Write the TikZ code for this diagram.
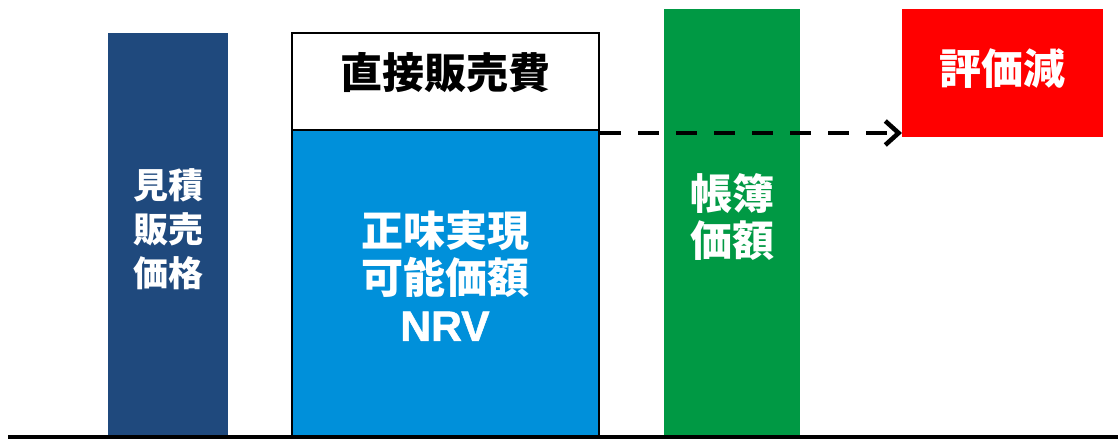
\documentclass[tikz,border=0pt]{standalone}
\usepackage{fontspec}
\newfontfamily\jp{Noto Sans CJK JP}
\newfontfamily\latb{Liberation Sans Bold}[FakeBold=1.2]
\usetikzlibrary{arrows.meta}
\definecolor{navybar}{HTML}{1F497D}
\definecolor{bluebox}{HTML}{0090DA}
\definecolor{greenbar}{HTML}{009944}
\definecolor{redbox}{HTML}{FF0000}
\tikzset{
  lbl/.style={text=white, align=center, font=\jp\bfseries\fontsize{31.5}{35.25}\selectfont, inner sep=0pt},
  lblsmall/.style={text=white, align=center, font=\jp\bfseries\fontsize{26.25}{33}\selectfont, inner sep=0pt},
  frame/.style={draw=black, line width=1.3pt},
  dasharrow/.style={draw=black, line width=3.6pt, dash pattern=on 15.75pt off 12.75pt, -{Straight Barb[length=10pt,width=18pt,line width=3.4pt]}},
}
\begin{document}
\begin{tikzpicture}[x=0.75pt, y=-0.75pt]
\useasboundingbox (0,0) rectangle (1118,439);
% bars
\fill[navybar] (108,33) rectangle (228,435);
\fill[greenbar] (664,9) rectangle (800,435);
\fill[redbox] (902,9) rectangle (1103,137);
% NRV stack
\fill[white] (292,33) rectangle (599,130);
\fill[bluebox] (292,130) rectangle (599,435);
\draw[frame] (292,435) -- (292,33) -- (599,33) -- (599,435);
\draw[frame] (292,130) -- (599,130);
% nodes
\node[lblsmall] (est) at (168,229) {見積\\販売\\価格};
\node[lbl, text=black] (dse) at (445,73) {直接販売費};
\node[lbl] (nrv) at (445,276) {正味実現\\可能価額\\{\latb\fontsize{32}{35.25}\selectfont NRV}};
\node[lbl] (book) at (732,217) {帳簿\\価額};
\node[lbl] (loss) at (1002,69) {評価減};
\coordinate (astart) at (600,133);
\coordinate (aend) at (902,133);
\draw[dasharrow] (astart) -- (aend);
% base line
\draw[line width=3pt] (8,436.5) -- (1118,436.5);
\end{tikzpicture}
\end{document}
